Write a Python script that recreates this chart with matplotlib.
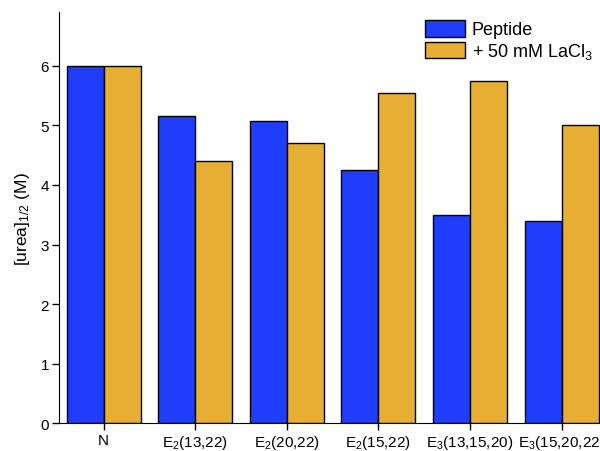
import matplotlib.pyplot as plt
import numpy as np

plt.rcParams['font.family'] = ['Liberation Sans', 'DejaVu Sans']
plt.rcParams['mathtext.fontset'] = 'custom'
plt.rcParams['mathtext.rm'] = 'Liberation Sans'
plt.rcParams['mathtext.it'] = 'Liberation Sans'
plt.rcParams['mathtext.default'] = 'regular'

labels = ["N", "E$_2$(13,22)", "E$_2$(20,22)", "E$_2$(15,22)", "E$_3$(13,15,20)", "E$_3$(15,20,22)"]
peptide = [6.0, 5.15, 5.08, 4.25, 3.5, 3.4]
lacl3 = [6.0, 4.4, 4.7, 5.55, 5.75, 5.0]

blue = "#1F3DFB"
gold = "#E6AF33"

fig = plt.figure(figsize=(6, 4.52), dpi=100)
ax = fig.add_axes([0.098, 0.061, 0.902, 0.91])

x = np.arange(len(labels))
w = 0.404
ax.bar(x - w / 2, peptide, w, color=blue, edgecolor="black", linewidth=1, label="Peptide")
ax.bar(x + w / 2, lacl3, w, color=gold, edgecolor="black", linewidth=1, label="+ 50 mM LaCl$_3$")

ax.set_xlim(-0.49, 5.42)
ax.set_ylim(0, 6.9)
ax.set_yticks(range(7))
ax.set_xticks(x)
ax.set_xticklabels(labels)
ax.tick_params(axis="both", labelsize=11, direction="out", length=5, width=1, pad=2)
ax.set_ylabel("[urea]$_{1/2}$ (M)", fontsize=12.5, labelpad=6)
ax.spines["top"].set_visible(False)
ax.spines["right"].set_visible(False)

ax.legend(loc="upper left", bbox_to_anchor=(0.653, 1.012), fontsize=13, frameon=False,
          handlelength=2.2, handleheight=1.05, labelspacing=0.15, handletextpad=0.4,
          borderpad=0.2)

fig.savefig("out.png", dpi=100)
